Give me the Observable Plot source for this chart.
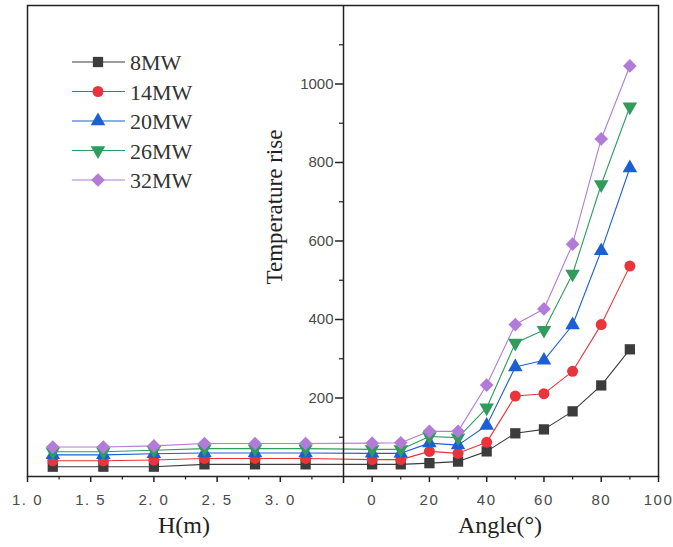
<!DOCTYPE html>
<html><head><meta charset="utf-8">
<script src="https://cdn.jsdelivr.net/npm/d3@7"></script>
<script src="https://cdn.jsdelivr.net/npm/@observablehq/plot@0.6"></script>
<style>
html,body{margin:0;padding:0;background:#fff;}
#wrap{position:relative;width:673px;height:547px;}
#overlay{position:absolute;left:0;top:0;pointer-events:none;}
</style></head><body><div id="wrap"></div>
<script>
// ---------- data ----------
const series = ["8MW", "14MW", "20MW", "26MW", "32MW"];
const colors = ["#3c3c3c", "#e8353b", "#1c5fd4", "#2f9c5c", "#b27bd8"];

const hValues = [1.2, 1.6, 2.0, 2.4, 2.8, 3.2];
const tempH_8MW  = [25, 25, 25, 31, 31, 31];
const tempH_14MW = [40, 40, 42, 46, 46, 46];
const tempH_20MW = [55, 55, 58, 60, 60, 60];
const tempH_26MW = [63, 63, 67, 71, 71, 71];
const tempH_32MW = [75, 75, 78, 84, 84, 84];

const angleValues = [0, 10, 20, 30, 40, 50, 60, 70, 80, 90];
const tempA_8MW  = [31, 31, 34, 38, 64, 110, 120, 166, 232, 324];
const tempA_14MW = [43, 43, 64, 59, 87, 205, 211, 268, 387, 536];
const tempA_20MW = [59, 59, 85, 80, 130, 279, 296, 386, 575, 786];
const tempA_26MW = [69, 69, 102, 99, 175, 340, 373, 516, 744, 942];
const tempA_32MW = [85, 86, 115, 115, 233, 387, 427, 592, 860, 1046];

const hTicks = [1.0, 1.5, 2.0, 2.5, 3.0];
const hTickLabels = ["1. 0", "1. 5", "2. 0", "2. 5", "3. 0"];
const hMinorTicks = [1.25, 1.75, 2.25, 2.75, 3.25];
const angleTicks = [0, 20, 40, 60, 80, 100];
const angleTickLabels = ["0", "20", "40", "60", "80", "100"];
const angleMinorTicks = [10, 30, 50, 70, 90];
const yTicks = [200, 400, 600, 800, 1000];
const yTickLabels = ["200", "400", "600", "800", "1000"];
const yMinorTicks = [100, 300, 500, 700, 900, 1100];

// ---------- layout ----------
const W = 673, H = 547;
const mL = 27, mR = 15, mT = 5, mB = 71;
const hDomain = [1.0, 3.5];
const angleDomain = [-10, 100];
const split = hDomain[1];
const toU = a => split + (a - angleDomain[0]);     // angle -> composite x
const fromU = u => u - split + angleDomain[0];
const xDomain = [hDomain[0], split, toU(angleDomain[1])];
const xRange = [mL, 343, W - mR];

const tempH = [tempH_8MW, tempH_14MW, tempH_20MW, tempH_26MW, tempH_32MW];
const tempA = [tempA_8MW, tempA_14MW, tempA_20MW, tempA_26MW, tempA_32MW];

const rows = [];
series.forEach((s, i) => {
  hValues.forEach((h, j) => rows.push({s, i, u: h, v: tempH[i][j]}));
  angleValues.forEach((a, j) => rows.push({s, i, u: toU(a), v: tempA[i][j]}));
});

// custom symbols
const triangleDown = {draw(ctx, size) {
  const y = Math.sqrt(size / (Math.sqrt(3) * 3)), s3 = Math.sqrt(3);
  ctx.moveTo(0, 2 * y); ctx.lineTo(-s3 * y, -y); ctx.lineTo(s3 * y, -y); ctx.closePath();
}};
const diamondWide = {draw(ctx, size) {
  const d = Math.sqrt(size / Math.PI) * 1.2;
  ctx.moveTo(0, -d); ctx.lineTo(d, 0); ctx.lineTo(0, d); ctx.lineTo(-d, 0); ctx.closePath();
}};
const symbols = [d3.symbolSquare, d3.symbolCircle, d3.symbolTriangle, triangleDown, diamondWide];
const radii = [5.8, 5.5, 5.4, 5.4, 5.7];

const axisShift = xRange[1] - mL;   // middle y axis sits at the split of the x scale

const marks = [];
series.forEach((s, i) => {
  marks.push(Plot.line(rows.filter(d => d.i === i), {x: "u", y: "v", stroke: colors[i], strokeWidth: 1.1}));
});
series.forEach((s, i) => {
  marks.push(Plot.dot(rows.filter(d => d.i === i), {x: "u", y: "v", fill: colors[i], stroke: "none", symbol: symbols[i], r: radii[i]}));
});

const tickColor = "#222";
const labColor = "#4a4a4a";
marks.push(
  Plot.frame({stroke: "#222", strokeWidth: 1.5}),
  Plot.ruleX([split], {stroke: "#222", strokeWidth: 1.5}),
  // left x axis (H)
  Plot.axisX(hTicks, {label: null, tickSize: 6, tickPadding: 12, fontSize: 15, fill: labColor, stroke: tickColor, strokeWidth: 1.5,
    tickFormat: d => hTickLabels[hTicks.indexOf(d)]}),
  Plot.axisX(hMinorTicks, {label: null, tickSize: 3.5, text: null, stroke: tickColor, strokeWidth: 1.2}),
  // right x axis (Angle)
  Plot.axisX(angleTicks.map(toU), {label: null, tickSize: 6, tickPadding: 12, fontSize: 15, fill: labColor, stroke: tickColor, strokeWidth: 1.5,
    tickFormat: u => angleTickLabels[angleTicks.indexOf(Math.round(fromU(u)))]}),
  Plot.axisX(angleMinorTicks.map(toU), {label: null, tickSize: 3.5, text: null, stroke: tickColor, strokeWidth: 1.2}),
  Plot.axisX([split], {label: null, tickSize: 7, text: null, stroke: tickColor, strokeWidth: 1.5}),
  // y axis in the middle
  Plot.axisY(yTicks, {label: null, anchor: "left", dx: axisShift, tickSize: 8, tickPadding: 2, fontSize: 15, fill: labColor, stroke: tickColor, strokeWidth: 1.5,
    tickFormat: d => yTickLabels[yTicks.indexOf(d)]}),
  Plot.axisY(yMinorTicks, {label: null, anchor: "left", dx: axisShift, tickSize: 4, text: null, stroke: tickColor, strokeWidth: 1.2})
);

const chart = Plot.plot({
  width: W, height: H,
  marginLeft: mL, marginRight: mR, marginTop: mT, marginBottom: mB,
  style: {fontFamily: "'Liberation Sans', Arial, sans-serif", background: "#fff", color: "#222"},
  x: {type: "linear", domain: xDomain, range: xRange},
  y: {type: "linear", domain: [0, 1200]},
  marks
});
const wrap = document.getElementById("wrap");
wrap.appendChild(chart);
d3.select(chart).selectAll('g[aria-label="x-axis tick label"] text').attr("letter-spacing", "1.5px");

// ---------- overlay: titles & legend ----------
const ov = d3.select(wrap).append("svg").attr("id", "overlay").attr("width", W).attr("height", H)
  .style("font-family", "'Liberation Serif', 'Times New Roman', serif");
ov.append("text").attr("transform", "translate(274,207) rotate(-90)").attr("text-anchor", "middle")
  .attr("dominant-baseline", "central").attr("font-size", 23).attr("fill", "#222").text("Temperature rise");
ov.append("text").attr("x", 184).attr("y", 533).attr("text-anchor", "middle").attr("font-size", 24).attr("fill", "#222").text("H(m)");
ov.append("text").attr("x", 500).attr("y", 533).attr("text-anchor", "middle").attr("font-size", 24).attr("fill", "#222").text("Angle(°)");

series.forEach((s, i) => {
  const cy = 62 + i * 29.5;
  const g = ov.append("g");
  g.append("line").attr("x1", 72).attr("x2", 125).attr("y1", cy).attr("y2", cy).attr("stroke", colors[i]).attr("stroke-width", 1.1);
  g.append("path").attr("transform", `translate(98,${cy})`)
    .attr("d", d3.symbol().type(symbols[i]).size(Math.PI * radii[i] * radii[i])()).attr("fill", colors[i]);
  g.append("text").attr("x", 130).attr("y", cy + 8).attr("font-size", 22).attr("fill", "#333").text(s);
});
</script></body></html>
